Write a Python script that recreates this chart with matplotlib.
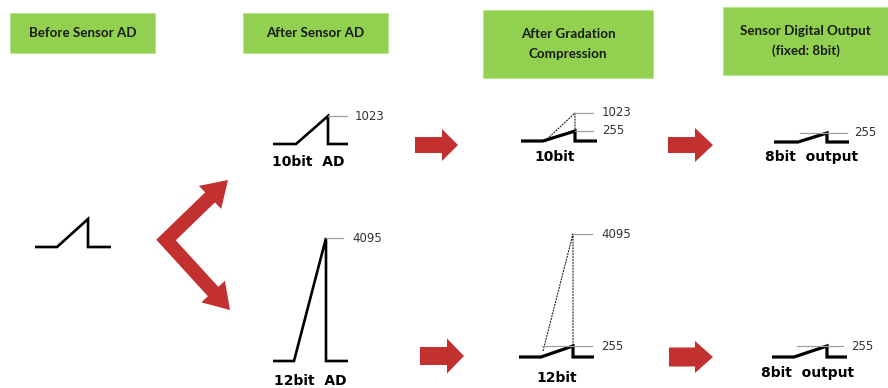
import numpy as np
import matplotlib.pyplot as plt
from matplotlib.patches import Rectangle, FancyArrow, Polygon

# canvas is laid out in pixel units (888 x 388, y grows downward)
W, H = 888, 388

# header boxes: (left, top, right, bottom), text
box_rects = [(10, 13, 155, 53), (243, 13, 388, 53), (483, 10, 653, 78), (723, 7, 888, 75)]
box_texts = ["Before Sensor AD", "After Sensor AD",
             "After Gradation\nCompression", "Sensor Digital Output\n(fixed: 8bit)"]

# waveforms: x_start, x_ramp, x_peak, x_end, y_base, y_peak
wave_before = [35, 57, 88, 111, 247, 219]
wave_ad10 = [273, 296, 328, 348, 144, 116]
wave_ad12 = [273, 294, 326, 348, 361, 238]
wave_comp10 = [521, 543, 575, 597, 141, 131]
wave_comp12 = [519, 541, 573, 594, 357, 346]
wave_out8_top = [774, 798, 827, 849, 142, 133]
wave_out8_bot = [772, 794, 827, 847, 357, 346]

# original (uncompressed) peak drawn dashed in compression panels
comp10_orig_peak = 113
comp12_orig_peak = 234

# level marker lines: x0, x1, y, label, label_x
levels = [
    (328, 347, 116, "1023", 355),
    (326, 343, 238, "4095", 352),
    (575, 593, 113, "1023", 602),
    (575, 593, 131, "255", 602),
    (573, 592, 234, "4095", 601),
    (542, 592, 346, "255", 601),
    (800, 847, 133, "255", 854),
    (797, 843, 346, "255", 851),
]

# captions under the waveforms
captions = ["10bit  AD", "12bit  AD", "10bit", "12bit", "8bit  output", "8bit  output"]
caption_pos = [(308, 162), (310, 381), (555, 157), (557, 378), (812, 157), (808, 373)]

# block arrows: x_start, x_tip, y_center, shaft width, head width, head length
right_arrows = [
    (415, 458, 145, 16, 32, 16),
    (668, 713, 145, 16, 34, 18),
    (420, 464, 356, 18, 35, 17),
    (669, 713, 357, 19, 32, 18),
]
# split arrow: vertex and two tips
split_vertex = (166, 240)
split_tips = [(228, 180), (230, 310)]

GREEN = "#92d050"
RED = "#c23030"

fig = plt.figure(figsize=(W / 100, H / 100), dpi=100)
ax = fig.add_axes([0, 0, 1, 1])
ax.set_xlim(0, W)
ax.set_ylim(H, 0)
ax.axis("off")

for (l, t, r, b), txt in zip(box_rects, box_texts):
    ax.add_patch(Rectangle((l, t), r - l, b - t, facecolor=GREEN, edgecolor="#b9e391", lw=0.8))
    ax.text((l + r) / 2, (t + b) / 2, txt, ha="center", va="center", fontsize=9.6,
            family="Lato", fontweight="bold", color="#1a1a1a", linespacing=1.7)


def draw_wave(w, lw=2.0):
    x0, x1, x2, x3, yb, yp = w
    ax.plot([x0, x1, x2, x2, x3], [yb, yb, yp, yb, yb], color="black", lw=lw,
            solid_joinstyle="miter", solid_capstyle="butt")


for w in [wave_before, wave_ad10, wave_ad12]:
    draw_wave(w, 1.9)
for w in [wave_comp10, wave_comp12, wave_out8_top, wave_out8_bot]:
    draw_wave(w, 2.3)

for w, pk in [(wave_comp10, comp10_orig_peak), (wave_comp12, comp12_orig_peak)]:
    x0, x1, x2, x3, yb, yp = w
    ax.plot([x1 + 2, x2, x2], [yb - 6 if pk > 200 else yb, pk, yp], color="black",
            lw=0.7, linestyle=(0, (2, 1)))

for x0, x1, y, lab, lx in levels:
    ax.plot([x0, x1], [y, y], color="#a0a0a0", lw=0.9)
    ax.text(lx, y, lab, ha="left", va="center", fontsize=8.5, family="DejaVu Sans",
            color="#333333")

for txt, (cx, cy) in zip(captions, caption_pos):
    ax.text(cx, cy, txt, ha="center", va="center", fontsize=10, family="DejaVu Sans",
            fontweight="bold", color="black")

for xs, xt, yc, sw, hw, hl in right_arrows:
    ax.add_patch(FancyArrow(xs, yc, xt - xs, 0, width=sw, head_width=hw, head_length=hl,
                            length_includes_head=True, color=RED, lw=0))

# split arrow: thick mitred polyline plus two heads
vx, vy = split_vertex
arm_w = 14
head_len, head_half = 25, 16
necks = []
for tx, ty in split_tips:
    d = np.array([tx - vx, ty - vy], float)
    u = d / np.linalg.norm(d)
    n = np.array([-u[1], u[0]])
    base = np.array([tx, ty]) - head_len * u
    necks.append(base + 2 * u)
    ax.add_patch(Polygon([base + head_half * n, (tx, ty), base - head_half * n],
                         closed=True, color=RED, lw=0))
px_to_pt = 72 / 100
ax.plot([necks[0][0], vx, necks[1][0]], [necks[0][1], vy, necks[1][1]], color=RED,
        lw=arm_w * px_to_pt, solid_joinstyle="miter", solid_capstyle="butt")

fig.savefig("out.png", dpi=100)
